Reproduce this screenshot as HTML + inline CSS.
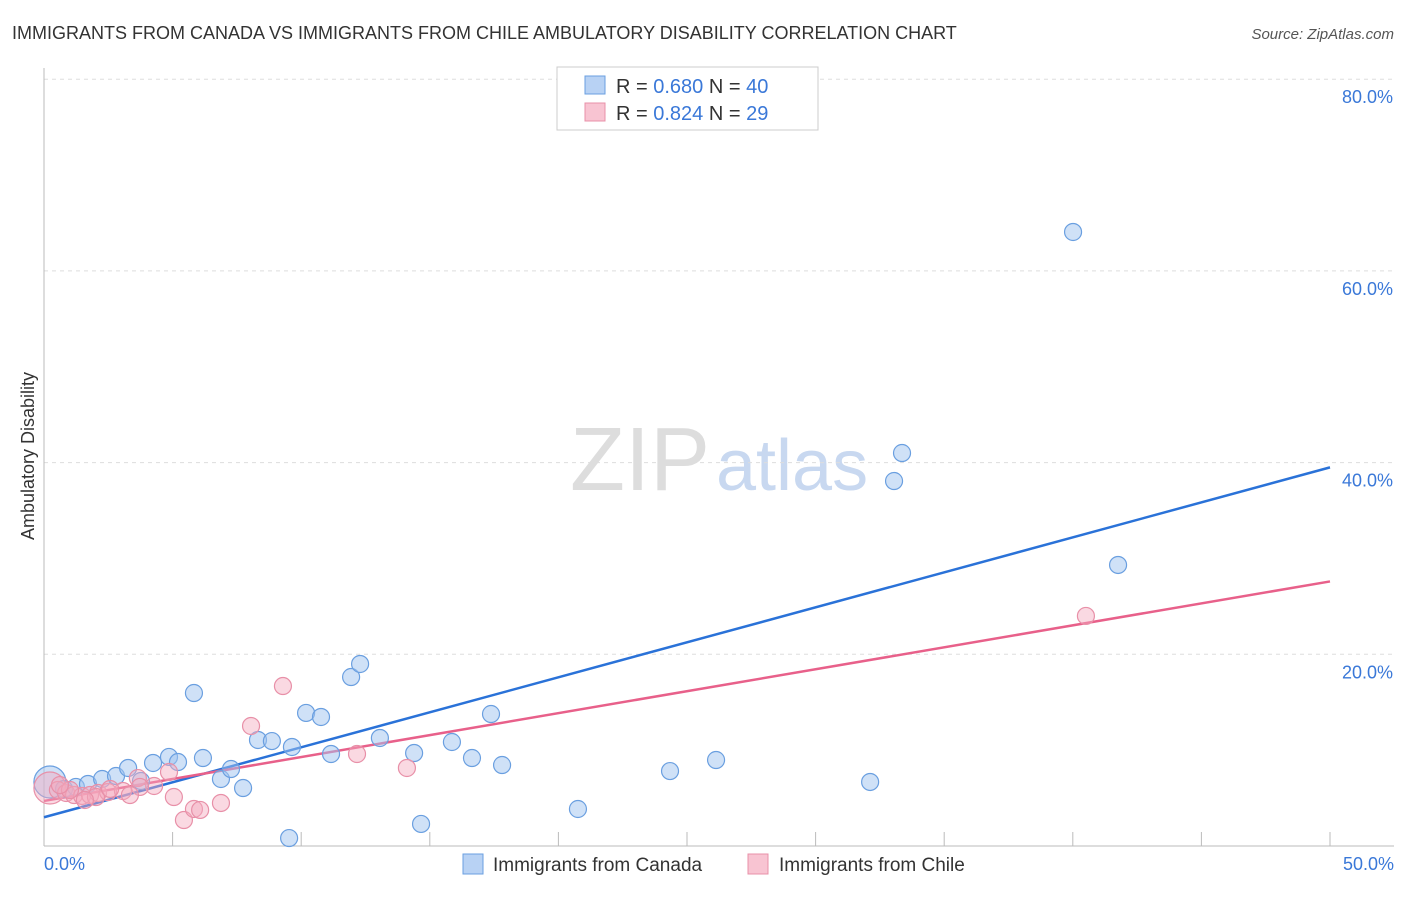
<!DOCTYPE html>
<html><head><meta charset="utf-8"><style>
body{margin:0;background:#fff;font-family:"Liberation Sans",sans-serif}
svg text{font-family:"Liberation Sans",sans-serif}
</style></head><body>
<svg width="1406" height="892" viewBox="0 0 1406 892" xmlns="http://www.w3.org/2000/svg">
<text x="12" y="39" font-size="18" fill="#333">IMMIGRANTS FROM CANADA VS IMMIGRANTS FROM CHILE AMBULATORY DISABILITY CORRELATION CHART</text>
<text x="1394" y="39" font-size="15" fill="#555" font-style="italic" text-anchor="end">Source: ZipAtlas.com</text>
<text x="710" y="490" font-size="90" fill="#ddd" text-anchor="end" font-family="Liberation Serif">ZIP</text>
<text x="716" y="490" font-size="72" fill="#c8d8f0">atlas</text>
<g id="grid"></g>
<line x1="44" y1="68" x2="44" y2="846" stroke="#bbb"/>
<line x1="44" y1="846" x2="1394" y2="846" stroke="#bbb"/>
<text x="34" y="456" font-size="18" fill="#333" transform="rotate(-90 34 456)" text-anchor="middle">Ambulatory Disability</text>
<text x="44" y="870" font-size="18" fill="#3a78d8">0.0%</text>
<text x="1394" y="870" font-size="18" fill="#3a78d8" text-anchor="end">50.0%</text>
<g id="lines"></g>
<g id="pts"></g>
<g>
<rect x="557" y="67" width="261" height="63" fill="#fff" stroke="#ccc"/>
<rect x="585" y="76" width="20" height="18" fill="#b8d2f4" stroke="#6a9fe0"/>
<rect x="585" y="103" width="20" height="18" fill="#f8c4d2" stroke="#e890a8"/>
<text x="616" y="93" font-size="20" fill="#333">R = <tspan fill="#3a78d8">0.680</tspan>   N = <tspan fill="#3a78d8">40</tspan></text>
<text x="616" y="120" font-size="20" fill="#333">R = <tspan fill="#3a78d8">0.824</tspan>   N = <tspan fill="#3a78d8"> 29</tspan></text>
</g>
<g>
<rect x="463" y="854" width="20" height="20" fill="#b8d2f4" stroke="#6a9fe0"/>
<text x="493" y="871" font-size="19" fill="#333">Immigrants from Canada</text>
<rect x="748" y="854" width="20" height="20" fill="#f8c4d2" stroke="#e890a8"/>
<text x="779" y="871" font-size="19" fill="#333">Immigrants from Chile</text>
</g>
</svg>
<script>
const yTicks=[20,40,60,80];
const xTicks=[5,10,15,20,25,30,35,40,45,50];
const canadaX=[0.23,0.78,1.24,1.71,2.26,2.80,3.27,3.77,4.24,4.86,5.21,5.83,6.18,6.88,7.27,7.74,8.32,8.86,9.64,10.19,10.77,11.16,11.94,12.29,13.06,14.39,14.66,15.86,16.64,17.38,17.81,20.76,24.34,26.13,32.12,33.05,33.36,40.01,41.76,9.53];
const canadaY=[6.68,5.95,6.16,6.47,6.99,7.30,8.14,6.78,8.66,9.29,8.76,15.96,9.18,6.99,8.03,6.05,11.06,10.95,10.33,13.88,13.46,9.60,17.63,18.99,11.27,9.70,2.30,10.85,9.18,13.77,8.45,3.86,7.82,8.97,6.68,38.08,41.00,64.06,29.32,0.83];
const chileX=[0.23,0.54,0.86,1.17,1.48,1.79,2.10,2.49,3.07,3.65,4.28,4.86,5.05,5.44,5.83,6.07,6.88,8.05,9.29,12.17,14.11,40.51,2.02,2.57,1.01,1.59,3.73,0.62,3.34];
const chileY=[6.05,5.84,5.53,5.32,5.22,5.32,5.53,5.63,5.74,7.09,6.26,7.72,5.11,2.71,3.86,3.76,4.49,12.52,16.69,9.60,8.14,24.00,5.11,5.95,5.84,4.80,6.16,6.36,5.32];
const canadaLine=[3.0,39.5];
const chileLine=[4.7,27.6];
const NS='http://www.w3.org/2000/svg';
const sx=v=>44+v/50*1286;
const sy=v=>846-v*9.585;
function mk(t,a,p){const e=document.createElementNS(NS,t);for(const k in a)e.setAttribute(k,a[k]);p.appendChild(e);return e;}
const grid=document.getElementById('grid');
yTicks.forEach(v=>{
 const l=mk('line',{x1:44,x2:1394,y1:sy(v),y2:sy(v),stroke:'#ddd','stroke-dasharray':'4 4'},grid);
 
 
 const t=mk('text',{x:1393,y:sy(v)+24,'font-size':18,fill:'#3a78d8','text-anchor':'end'},grid);
 t.textContent=v.toFixed(1)+'%';
 
 
});
xTicks.forEach(v=>{
 const l=mk('line',{x1:sx(v),x2:sx(v),y1:832,y2:846,stroke:'#bbb'},grid);
 
 
});
const pts=document.getElementById('pts');
function series(xs,ys,fill,stroke,name){xs.forEach((x,i)=>{
 const c=mk('circle',{cx:sx(x),cy:sy(ys[i]),r:(i==0?16:8.5),fill:fill,stroke:stroke,'stroke-width':1.2},pts);
 
 
});}
series(canadaX,canadaY,'rgba(160,196,240,0.5)','#6a9fe0','canada-point');
series(chileX,chileY,'rgba(245,170,190,0.45)','#e890a8','chile-point');
const lines=document.getElementById('lines');
const b=mk('line',{x1:sx(0),y1:sy(canadaLine[0]),x2:sx(50),y2:sy(canadaLine[1]),stroke:'#2a72d8','stroke-width':2.5},lines);


const p=mk('line',{x1:sx(0),y1:sy(chileLine[0]),x2:sx(50),y2:sy(chileLine[1]),stroke:'#e8608a','stroke-width':2.5},lines);


</script>
</body></html>
